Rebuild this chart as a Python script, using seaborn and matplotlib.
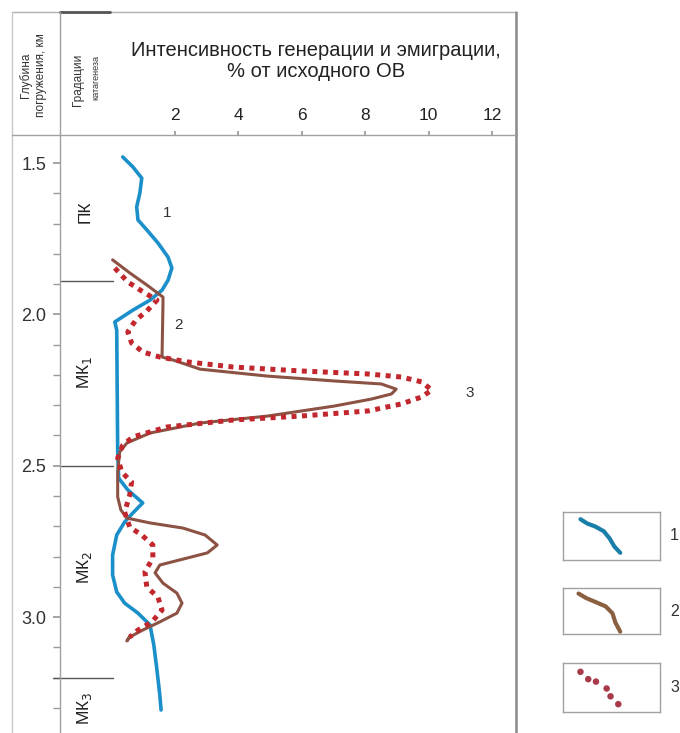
import numpy as np
import pandas as pd
import matplotlib
matplotlib.use("Agg")
import matplotlib.pyplot as plt
import seaborn as sns

sns.set_theme(style="white")
plt.rcParams['font.family'] = ['Liberation Sans', 'DejaVu Sans']

# ---------------- data ----------------
# curve 1 (blue)
blue_x = [0.35, 0.67, 0.95, 0.89, 0.79, 0.83, 1.11, 1.46, 1.78, 1.90, 1.78, 1.59, 1.21, 0.67, 0.10,
          0.16, 0.19, 0.22, 0.51, 0.98, 0.67, 0.41, 0.16, 0.03, 0.03, 0.16, 0.41, 0.83, 1.21, 1.33,
          1.43, 1.52, 1.56]
blue_d = [1.480, 1.513, 1.550, 1.599, 1.645, 1.688, 1.721, 1.764, 1.811, 1.847, 1.887, 1.920, 1.953,
          1.986, 2.025, 2.052, 2.448, 2.541, 2.580, 2.623, 2.656, 2.686, 2.729, 2.795, 2.861, 2.917,
          2.954, 2.987, 3.026, 3.092, 3.175, 3.258, 3.307]
# curve 2 (brown)
brown_x = [0.03, 0.57, 1.11, 1.62, 1.62, 1.59, 1.94, 2.79, 4.92, 7.02, 8.51, 8.98, 8.83, 8.19, 7.02,
           4.92, 2.79, 1.21, 0.48, 0.25, 0.19, 0.19, 0.29, 0.48, 1.21, 2.25, 2.95, 3.33, 3.02, 2.16,
           1.52, 1.37, 1.62, 2.06, 2.22, 2.06, 1.52, 0.98, 0.57, 0.48, 0.60]
brown_d = [1.820, 1.863, 1.903, 1.943, 1.963, 2.141, 2.151, 2.181, 2.204, 2.220, 2.230, 2.247, 2.263,
           2.280, 2.303, 2.336, 2.359, 2.392, 2.425, 2.455, 2.524, 2.603, 2.646, 2.673, 2.689, 2.706,
           2.729, 2.762, 2.788, 2.811, 2.828, 2.854, 2.888, 2.921, 2.954, 2.987, 3.016, 3.043, 3.066,
           3.079, 3.060]
# curve 3 (red dotted)
red_x = [0.10, 0.51, 0.95, 1.43, 1.11, 0.76, 0.51, 0.63, 0.98, 1.52, 2.38, 3.84, 5.97, 8.10, 9.14,
         9.78, 10.10, 9.78, 9.14, 8.10, 5.97, 3.84, 1.75, 0.67, 0.35, 0.19, 0.32, 0.63, 0.57, 0.41,
         0.57, 0.95, 1.30, 1.30, 1.05, 1.11, 1.46, 1.59, 1.27, 0.83, 0.57]
red_d = [1.847, 1.893, 1.923, 1.953, 1.989, 2.019, 2.058, 2.095, 2.124, 2.141, 2.157, 2.174, 2.187,
         2.197, 2.207, 2.223, 2.250, 2.273, 2.296, 2.319, 2.336, 2.349, 2.372, 2.405, 2.432, 2.475,
         2.521, 2.554, 2.597, 2.653, 2.703, 2.729, 2.762, 2.805, 2.851, 2.901, 2.934, 2.977, 3.016,
         3.043, 3.066]

x_ticks = [2, 4, 6, 8, 10, 12]
y_major = [1.5, 2.0, 2.5, 3.0]
y_labels = ["1.5", "2.0", "2.5", "3.0"]
zone_bounds = [1.89, 2.5, 3.2]
zone_names = ["ПК", "МК$_1$", "МК$_2$", "МК$_3$"]
zone_centers = [1.66, 2.19, 2.835, 3.30]
curve_labels = ["1", "2", "3"]
curve_label_pos = [(1.75, 1.665), (2.10, 2.035), (11.3, 2.26)]

title = "Интенсивность генерации и эмиграции,\n% от исходного ОВ"
depth_hdr = "Глубина\nпогружения, км"
grad_hdr1 = "Градации"
grad_hdr2 = "катагенеза"

# legend sample shapes (box-relative)
leg_blue_x = [0.18, 0.25, 0.33, 0.42, 0.48, 0.53, 0.59]
leg_blue_y = [0.85, 0.76, 0.70, 0.60, 0.45, 0.28, 0.15]
leg_brown_x = [0.16, 0.24, 0.33, 0.44, 0.51, 0.54, 0.59]
leg_brown_y = [0.88, 0.78, 0.70, 0.60, 0.45, 0.25, 0.05]
leg_red_x = [0.18, 0.26, 0.34, 0.45, 0.49, 0.57]
leg_red_y = [0.82, 0.67, 0.62, 0.48, 0.32, 0.16]

BLUE = "#1b8fca"
BROWN = "#8c5243"
RED = "#c1272d"
GRID = "#9a9a9a"

W, H = 680, 733
fig = plt.figure(figsize=(W / 100, H / 100), dpi=100)

# background axes in pixel coordinates for frame lines / header text
bg = fig.add_axes([0, 0, 1, 1], zorder=0)
bg.set_xlim(0, W)
bg.set_ylim(H, 0)
bg.axis("off")

L, R, T = 60, 516, 135
bg.plot([12, R], [12, 12], color="#b0b0b0", lw=1.0)
bg.plot([60, 110], [12, 12], color="#555555", lw=2.0)
bg.plot([12, 12], [12, H], color="#c8c8c8", lw=1.0)
bg.plot([60, 60], [12, T], color="#a0a0a0", lw=1.0)
bg.plot([12, 60], [T, T], color="#a0a0a0", lw=1.0)
bg.plot([R, R], [12, T], color="#8a8a8a", lw=1.8)

bg.text(33, 75, depth_hdr, rotation=90, ha="center", va="center", fontsize=8.5, color="#333333",
        linespacing=1.35)
bg.text(78, 80, grad_hdr1, rotation=90, ha="center", va="center", fontsize=8.5, color="#333333")
bg.text(96, 78, grad_hdr2, rotation=90, ha="center", va="center", fontsize=6.5, color="#333333")
bg.text(316, 61, title, ha="center", va="center", fontsize=14.5, color="#222222", linespacing=1.1)

# main axes
ax = fig.add_axes([L / W, 0, (R - L) / W, (H - T) / H], zorder=1)
ax.set_xlim(-1.63, 12.76)
ax.set_ylim(3.383, 1.4075)

sns.lineplot(x=blue_x, y=blue_d, sort=False, estimator=None, ax=ax, color=BLUE, lw=2.6)
sns.lineplot(x=brown_x, y=brown_d, sort=False, estimator=None, ax=ax, color=BROWN, lw=2.2)
sns.lineplot(x=red_x, y=red_d, sort=False, estimator=None, ax=ax, color=RED, lw=3.6,
             linestyle=(0, (1.0, 1.1)), dash_capstyle="butt")

for b in zone_bounds:
    x0 = -1.85 if b > 3 else -1.6
    ax.plot([x0, 0.05], [b, b], color="#555555", lw=1.0, clip_on=False)
for name, c in zip(zone_names, zone_centers):
    ax.text(-0.85, c, name, rotation=90, ha="center", va="center", fontsize=12.5, color="#222222")
for lab, (px, py) in zip(curve_labels, curve_label_pos):
    ax.text(px, py, lab, ha="center", va="center", fontsize=11, color="#333333")

ax.xaxis.tick_top()
ax.set_xticks(x_ticks)
ax.set_xticklabels([str(t) for t in x_ticks], fontsize=12.5, color="#222222")
ax.tick_params(axis="x", which="major", direction="out", length=3, pad=6, color=GRID, top=True,
               bottom=False)
ax.set_yticks(y_major)
ax.set_yticklabels(y_labels, fontsize=13, color="#333333")
ax.set_yticks(np.arange(1.5, 3.35, 0.1), minor=True)
ax.tick_params(axis="y", which="both", direction="out", length=5, pad=5, color=GRID, left=True)
ax.set_xlabel("")
ax.set_ylabel("")
ax.spines["bottom"].set_visible(False)
ax.spines["left"].set_color("#a0a0a0")
ax.spines["left"].set_linewidth(1.0)
ax.spines["top"].set_color("#a0a0a0")
ax.spines["top"].set_linewidth(1.0)
ax.spines["right"].set_color("#8a8a8a")
ax.spines["right"].set_linewidth(1.8)

# legend boxes
boxes = [(563, 512, 660, 560), (563, 588, 660, 634), (563, 663, 660, 712)]
for i, (x0, y0, x1, y1) in enumerate(boxes):
    la = fig.add_axes([x0 / W, 1 - y1 / H, (x1 - x0) / W, (y1 - y0) / H], zorder=1)
    la.set_xlim(0, 1)
    la.set_ylim(0, 1)
    la.set_xticks([])
    la.set_yticks([])
    for s in la.spines.values():
        s.set_color("#a0a0a0")
        s.set_linewidth(1.0)
    if i == 0:
        sns.lineplot(x=leg_blue_x, y=leg_blue_y, sort=False, estimator=None, ax=la, color="#1a7fa8", lw=3)
    elif i == 1:
        sns.lineplot(x=leg_brown_x, y=leg_brown_y, sort=False, estimator=None, ax=la, color="#8a6040", lw=3)
    else:
        sns.scatterplot(x=leg_red_x, y=leg_red_y, ax=la, color="#a83a4a", marker="o", s=22,
                        edgecolor="none")
    la.set_xlabel("")
    la.set_ylabel("")
    bg.text(x1 + 10, (y0 + y1) / 2, curve_labels[i], ha="left", va="center", fontsize=11.5,
            color="#333333")

fig.savefig("out.png", dpi=100)
